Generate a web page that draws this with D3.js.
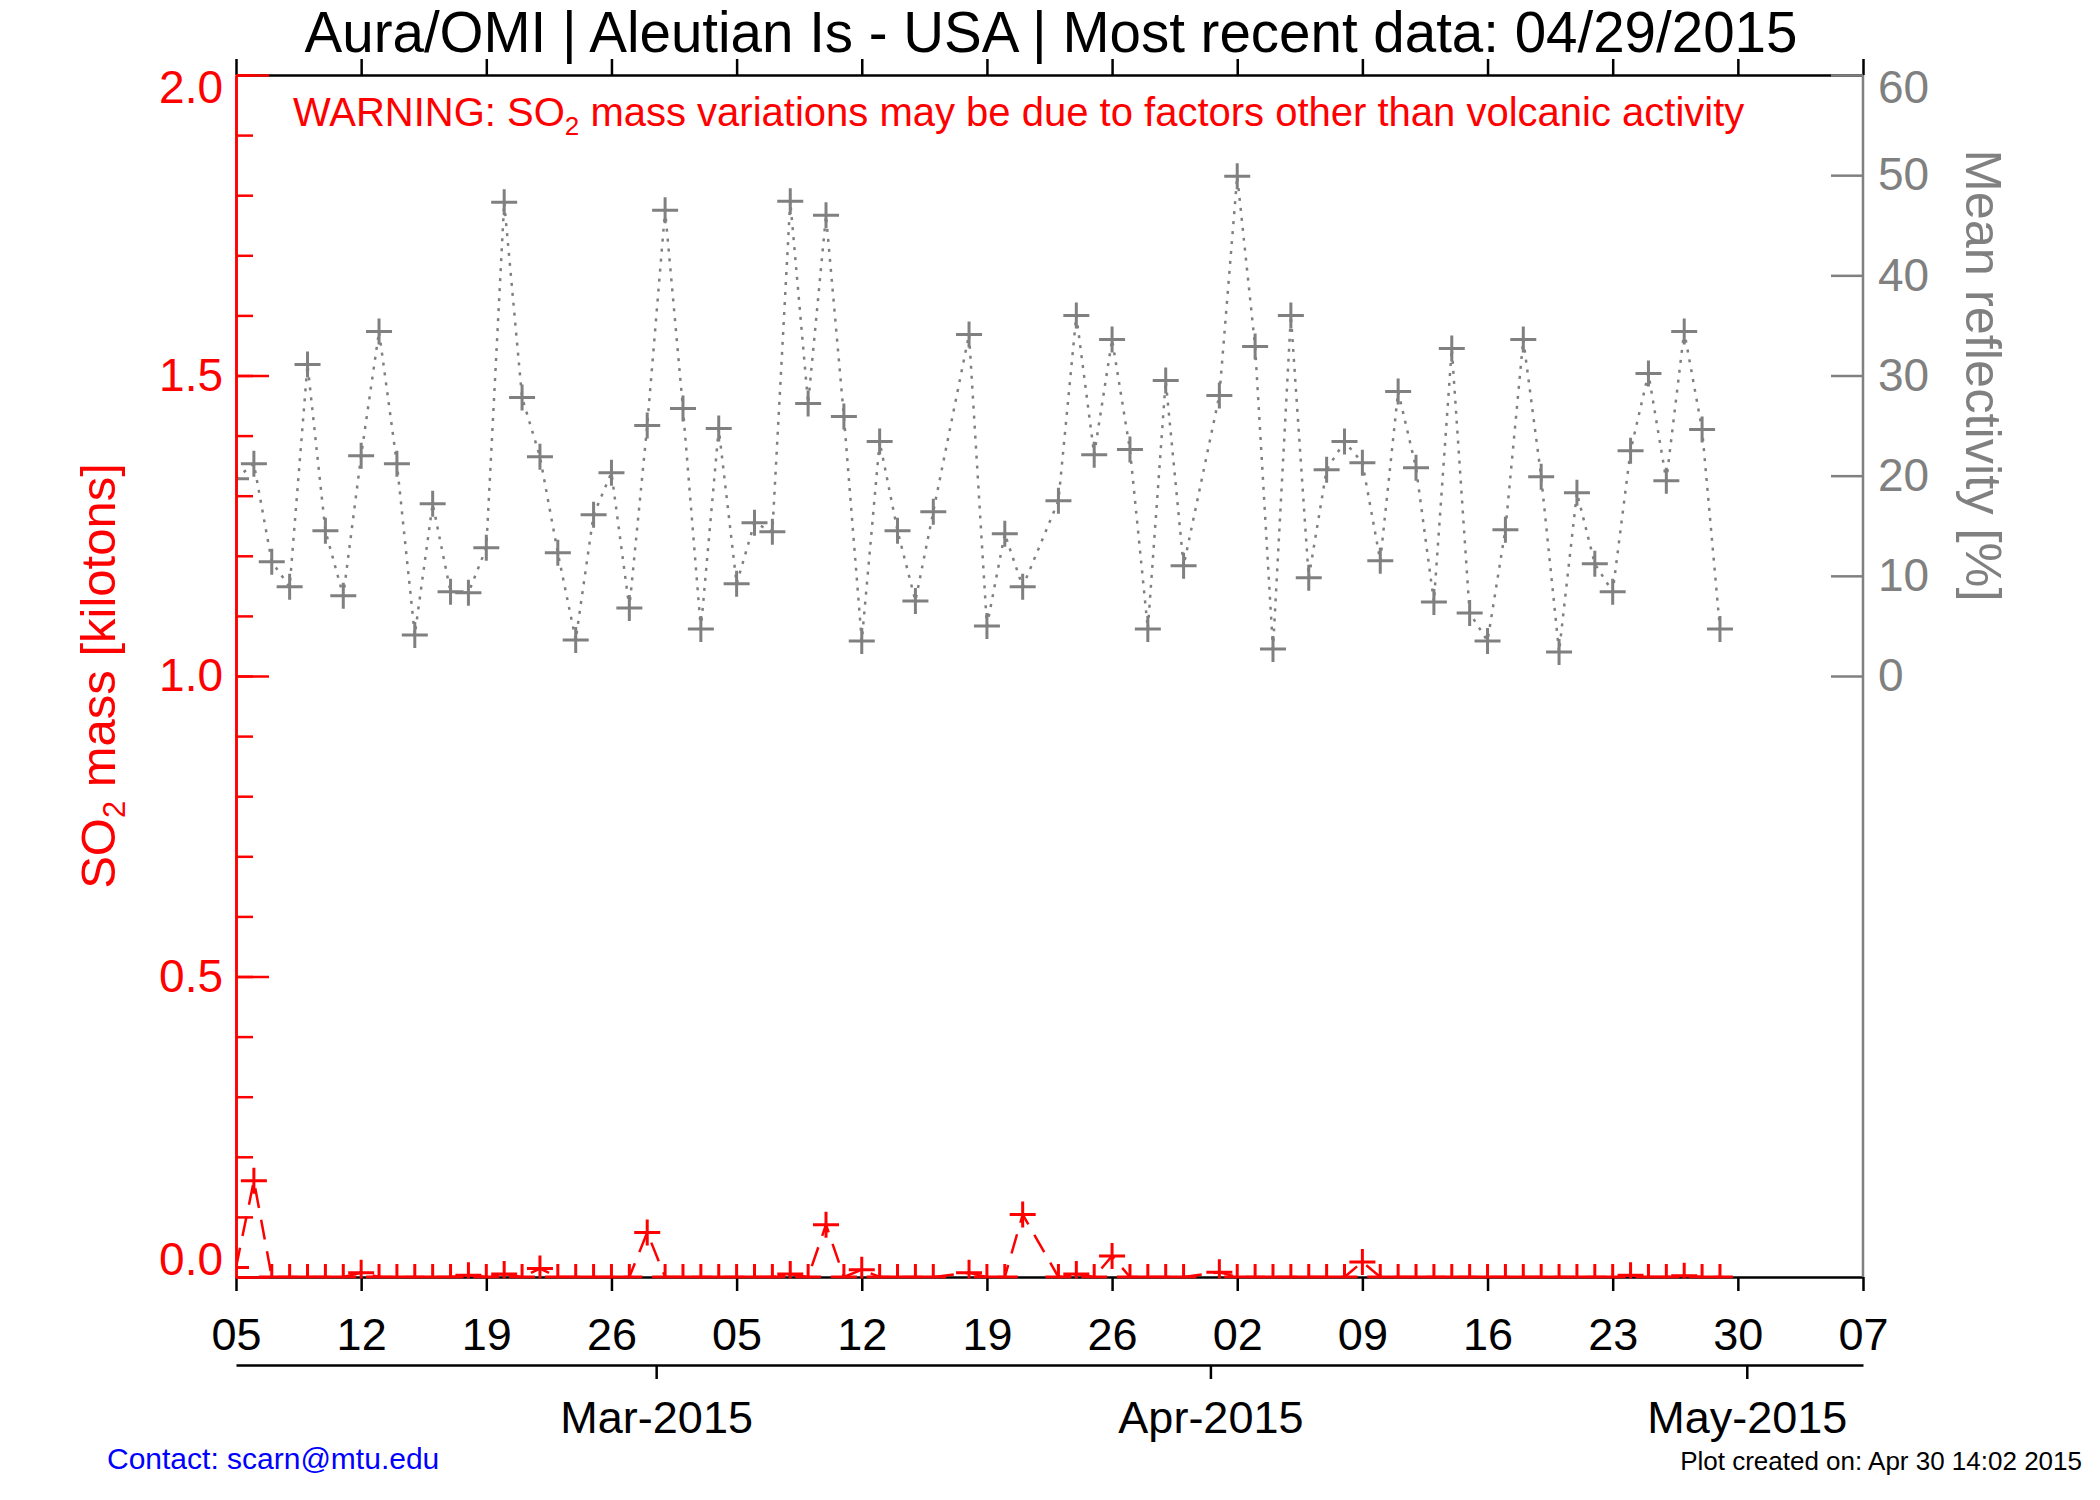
<!DOCTYPE html>
<html>
<head>
<meta charset="utf-8">
<script src="https://cdn.jsdelivr.net/npm/d3@7"></script>
<style>
body { margin: 0; background: #fff; }
svg { display: block; }
</style>
</head>
<body>
<svg></svg>
<script>
var width = 2100;
var height = 1500;
var margin = {
	top: 75,
	bottom: 223,
	left: 236,
	right: 237
};
var font = "'Liberation Sans', Arial, Helvetica, sans-serif";

// observation days (no data on Mar 17, Mar 22, Mar 31)
var obsDates = [
	'2015-02-05', '2015-02-06', '2015-02-07', '2015-02-08', '2015-02-09', '2015-02-10',
	'2015-02-11', '2015-02-12', '2015-02-13', '2015-02-14', '2015-02-15', '2015-02-16',
	'2015-02-17', '2015-02-18', '2015-02-19', '2015-02-20', '2015-02-21', '2015-02-22',
	'2015-02-23', '2015-02-24', '2015-02-25', '2015-02-26', '2015-02-27', '2015-02-28',
	'2015-03-01', '2015-03-02', '2015-03-03', '2015-03-04', '2015-03-05', '2015-03-06',
	'2015-03-07', '2015-03-08', '2015-03-09', '2015-03-10', '2015-03-11', '2015-03-12',
	'2015-03-13', '2015-03-14', '2015-03-15', '2015-03-16',
	'2015-03-18', '2015-03-19', '2015-03-20', '2015-03-21',
	'2015-03-23', '2015-03-24', '2015-03-25', '2015-03-26', '2015-03-27', '2015-03-28',
	'2015-03-29', '2015-03-30',
	'2015-04-01', '2015-04-02', '2015-04-03', '2015-04-04', '2015-04-05', '2015-04-06',
	'2015-04-07', '2015-04-08', '2015-04-09', '2015-04-10', '2015-04-11', '2015-04-12',
	'2015-04-13', '2015-04-14', '2015-04-15', '2015-04-16', '2015-04-17', '2015-04-18',
	'2015-04-19', '2015-04-20', '2015-04-21', '2015-04-22', '2015-04-23', '2015-04-24',
	'2015-04-25', '2015-04-26', '2015-04-27', '2015-04-28', '2015-04-29'
];

// mean reflectivity [%]
var reflectivity = [
	19.7, 21.2, 11.4, 8.9, 31.1, 14.5, 8.0, 22.0, 34.4, 21.2, 4.1, 17.2,
	8.4, 8.3, 12.8, 47.3, 27.8, 21.9, 12.3, 3.6, 16.1, 20.3, 6.8, 25.0,
	46.5, 26.7, 4.7, 24.7, 9.2, 15.3, 14.4, 47.4, 27.2, 46.0, 25.9, 3.5,
	23.4, 14.5, 7.5, 16.4,
	34.1, 5.0, 14.2, 8.9,
	17.5, 36.0, 22.1, 33.6, 22.6, 4.7, 29.5, 11.0,
	28.0, 49.9, 32.9, 2.7, 36.0, 9.8, 20.6, 23.4, 21.3, 11.5, 28.4, 20.8,
	7.4, 32.7, 6.3, 3.5, 14.6, 33.6, 19.9, 2.4, 18.3, 11.2, 8.4, 22.5,
	30.2, 19.5, 34.4, 24.6, 4.7
];

// SO2 mass [kilotons]
var so2Mass = [
	0.016, 0.16, 0, 0, 0, 0, 0, 0.007, 0, 0, 0, 0,
	0, 0.003, 0, 0.005, 0, 0.014, 0, 0, 0, 0, 0, 0.074,
	0, 0, 0, 0, 0, 0, 0, 0.005, 0, 0.087, 0, 0.012,
	0, 0, 0, 0,
	0.007, 0, 0, 0.104,
	0, 0.005, 0, 0.035, 0, 0, 0, 0,
	0.008, 0, 0, 0, 0, 0, 0, 0, 0.025, 0, 0, 0,
	0, 0, 0, 0, 0, 0, 0, 0, 0, 0, 0, 0.003,
	0, 0, 0.002, 0, 0
];

var xStart = '2015-02-05';
var xEnd = '2015-05-07';
var so2Ticks = [0, 0.5, 1.0, 1.5, 2.0];
var reflTicks = [0, 10, 20, 30, 40, 50, 60];
var monthTicks = ['2015-03-01', '2015-04-01', '2015-05-01'];

var titleText = 'Aura/OMI | Aleutian Is - USA | Most recent data: 04/29/2015';
var warnText = ['WARNING: SO', '2', ' mass variations may be due to factors other than volcanic activity'];
var leftTitle = ['SO', '2', ' mass [kilotons]'];
var rightTitle = 'Mean reflectivity [%]';
var contactText = 'Contact: scarn@mtu.edu';
var createdText = 'Plot created on: Apr 30 14:02 2015';

var red = '#ff0000';
var gray = '#808080';

var parseDay = d3.timeParse('%Y-%m-%d');
// daily values sit at noon, month boundaries at midnight
function parseNoon(s) {
	return d3.timeHour.offset(parseDay(s), 12);
}

var data = obsDates.map(function (d, i) {
	return { date: parseNoon(d), refl: reflectivity[i], so2: so2Mass[i] };
});

var svg = d3.select('svg')
	.attr('width', width)
	.attr('height', height)
	.attr('font-family', font);

var x = d3.scaleTime()
	.domain([parseNoon(xStart), parseNoon(xEnd)])
	.range([margin.left, width - margin.right]);

var y = d3.scaleLinear()
	.domain([0, 2])
	.range([height - margin.bottom, margin.top]);

var yRefl = d3.scaleLinear()
	.domain([0, 60])
	.range([y(1), y(2)]);

var weekTicks = d3.range(0, 14).map(function (i) {
	return d3.timeDay.offset(x.domain()[0], i * 7);
});

function styleAxis(g, color, size) {
	g.attr('font-family', font).attr('font-size', size);
	g.select('.domain').attr('stroke', color).attr('stroke-width', 2.5);
	g.selectAll('.tick line').attr('stroke', color).attr('stroke-width', 2.5);
	g.selectAll('.tick text').attr('fill', color);
}

// bottom (day) axis
svg.append('g')
	.attr('transform', `translate(0,${y(0)})`)
	.call(d3.axisBottom(x).tickValues(weekTicks).tickFormat(d3.timeFormat('%d'))
		.tickSizeInner(14).tickSizeOuter(0).tickPadding(27))
	.call(styleAxis, '#000', 45);

// top axis
svg.append('g')
	.attr('transform', `translate(0,${y(2)})`)
	.call(d3.axisTop(x).tickValues(weekTicks).tickFormat('')
		.tickSizeInner(16).tickSizeOuter(0))
	.call(styleAxis, '#000', 45);

// month axis
svg.append('g')
	.attr('transform', `translate(0,1365)`)
	.call(d3.axisBottom(x).tickValues(monthTicks.map(parseDay)).tickFormat(d3.timeFormat('%b-%Y'))
		.tickSizeInner(14).tickSizeOuter(0).tickPadding(22))
	.call(styleAxis, '#000', 45);

// data, clipped to the plot box
svg.append('clipPath')
	.attr('id', 'plotclip')
	.append('rect')
	.attr('x', x.range()[0])
	.attr('y', y(2))
	.attr('width', x.range()[1] - x.range()[0])
	.attr('height', y(0) - y(2) + 1.5);

var plotArea = svg.append('g').attr('clip-path', 'url(#plotclip)');

function plus(px, py, r) {
	return 'M' + (px - r) + ',' + py + 'H' + (px + r) + 'M' + px + ',' + (py - r) + 'V' + (py + r);
}

var reflLine = d3.line()
	.x(function (d) { return x(d.date); })
	.y(function (d) { return yRefl(d.refl); });

plotArea.append('path')
	.attr('d', reflLine(data))
	.attr('fill', 'none')
	.attr('stroke', gray)
	.attr('stroke-width', 2.5)
	.attr('stroke-dasharray', '3,7');

plotArea.append('path')
	.attr('d', data.map(function (d) { return plus(x(d.date), yRefl(d.refl), 13); }).join(''))
	.attr('fill', 'none')
	.attr('stroke', gray)
	.attr('stroke-width', 3);

var so2Line = d3.line()
	.x(function (d) { return x(d.date); })
	.y(function (d) { return y(d.so2); });

plotArea.append('path')
	.attr('d', so2Line(data))
	.attr('fill', 'none')
	.attr('stroke', red)
	.attr('stroke-width', 2.5)
	.attr('stroke-dasharray', '20,12');

plotArea.append('path')
	.attr('d', data.map(function (d) { return plus(x(d.date), y(d.so2), 13); }).join(''))
	.attr('fill', 'none')
	.attr('stroke', red)
	.attr('stroke-width', 3);

// left SO2 axis
svg.append('g')
	.attr('transform', `translate(${x.range()[0]},0)`)
	.call(d3.axisLeft(y).tickValues(y.ticks(20)).tickFormat('')
		.tickSizeInner(-17).tickSizeOuter(0))
	.call(styleAxis, red, 46);

var leftAxis = svg.append('g')
	.attr('transform', `translate(${x.range()[0]},0)`)
	.call(d3.axisLeft(y).tickValues(so2Ticks).tickFormat(d3.format('.1f'))
		.tickSizeInner(-33).tickSizeOuter(0).tickPadding(13))
	.call(styleAxis, red, 46);

leftAxis.selectAll('.tick text')
	.attr('dy', function (d) { return d === 2 ? '0.6em' : (d === 0 ? '-0.05em' : '0.32em'); });

// right reflectivity axis
svg.append('line')
	.attr('x1', x.range()[1]).attr('x2', x.range()[1])
	.attr('y1', y.range()[0]).attr('y2', y.range()[1])
	.attr('stroke', gray)
	.attr('stroke-width', 2.5);

var rightAxis = svg.append('g')
	.attr('transform', `translate(${x.range()[1]},0)`)
	.call(d3.axisRight(yRefl).tickValues(reflTicks)
		.tickSizeInner(-32).tickSizeOuter(0).tickPadding(15))
	.call(styleAxis, gray, 46);

rightAxis.select('.domain').remove();
rightAxis.selectAll('.tick text')
	.attr('dy', function (d) { return d === 60 ? '0.6em' : '0.32em'; });

// titles and notes
svg.append('text')
	.attr('x', 1051)
	.attr('y', 52)
	.attr('text-anchor', 'middle')
	.attr('font-size', 56.5)
	.attr('fill', '#000')
	.text(titleText);

var warn = svg.append('text')
	.attr('x', 293)
	.attr('y', 126)
	.attr('font-size', 40)
	.attr('fill', red);
warn.append('tspan').text(warnText[0]);
warn.append('tspan').attr('dy', 9).attr('font-size', 26).text(warnText[1]);
warn.append('tspan').attr('dy', -9).text(warnText[2]);

var lt = svg.append('text')
	.attr('transform', `translate(115,${(y(0) + y(2)) / 2}) rotate(-90)`)
	.attr('text-anchor', 'middle')
	.attr('font-size', 49)
	.attr('fill', red);
lt.append('tspan').text(leftTitle[0]);
lt.append('tspan').attr('dy', 10).attr('font-size', 31).text(leftTitle[1]);
lt.append('tspan').attr('dy', -10).text(leftTitle[2]);

svg.append('text')
	.attr('transform', `translate(1966,${(yRefl(0) + yRefl(60)) / 2}) rotate(90)`)
	.attr('text-anchor', 'middle')
	.attr('font-size', 50.5)
	.attr('fill', gray)
	.text(rightTitle);

svg.append('text')
	.attr('x', 107)
	.attr('y', 1469)
	.attr('font-size', 30)
	.attr('fill', '#0000ff')
	.text(contactText);

svg.append('text')
	.attr('x', 2082)
	.attr('y', 1470)
	.attr('text-anchor', 'end')
	.attr('font-size', 26)
	.attr('fill', '#000')
	.text(createdText);
</script>
</body>
</html>
